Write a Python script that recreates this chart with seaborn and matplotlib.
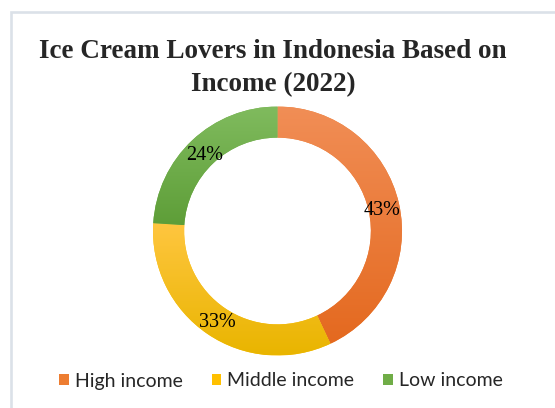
import numpy as np
import matplotlib
matplotlib.use("Agg")
import matplotlib.pyplot as plt
import matplotlib.transforms as mtransforms
import seaborn as sns
from matplotlib.patches import Patch, Rectangle
from matplotlib.colors import to_rgb

# ---- data ----
categories = ["High income", "Middle income", "Low income"]
shares = [43, 33, 24]
base_colors = ["#ED7D31", "#FFC000", "#70AD47"]
grad_top = ["#F18E56", "#FFC640", "#80BB5E"]
grad_bottom = ["#E4691F", "#E9B500", "#5E9E38"]
title_lines = ["Ice Cream Lovers in Indonesia Based on", "Income (2022)"]

sns.set_theme(style="white")
plt.rcParams["font.family"] = ["Liberation Serif", "DejaVu Serif"]

W, H = 555, 408
fig = plt.figure(figsize=(W / 100, H / 100), dpi=100)
fig.patch.set_facecolor("white")

cx, cy, R = 277.5, 231.0, 124.5
ax = fig.add_axes([(cx - R) / W, (H - cy - R) / H, 2 * R / W, 2 * R / H])

palette = sns.color_palette(base_colors)
wedges, texts, autotexts = ax.pie(
    shares, colors=palette, startangle=90, counterclock=False,
    radius=1.0, autopct="%1.0f%%", pctdistance=0.86,
    wedgeprops=dict(width=0.25, linewidth=0),
    textprops=dict(fontsize=14.5, color="black", family=["Liberation Serif"]),
)

# vertical gradient fill for each slice
for w, ct, cb in zip(wedges, grad_top, grad_bottom):
    ext = w.get_path().get_extents()
    n = 256
    t = np.linspace(0, 1, n)[:, None]
    grad = (1 - t) * np.array(to_rgb(ct)) + t * np.array(to_rgb(cb))
    grad = grad[:, None, :]
    im = ax.imshow(grad, extent=[ext.x0, ext.x1, ext.y0, ext.y1], origin="upper",
                   aspect="auto", interpolation="bilinear", zorder=w.get_zorder() + 0.1)
    im.set_clip_path(w)

shift = mtransforms.ScaledTranslation(0, -3 / 100, fig.dpi_scale_trans)
for t in autotexts:
    t.set_zorder(5)
    t.set_transform(t.get_transform() + shift)

ax.set_aspect("equal")
ax.set_xlim(-1, 1)
ax.set_ylim(-1, 1)
ax.axis("off")

for line, yb in zip(title_lines, [58.5, 91]):
    fig.text(273 / W, 1 - yb / H, line, ha="center", va="baseline", fontsize=19.5,
             fontweight="bold", family=["Liberation Serif"])

handles = [Patch(facecolor=c, edgecolor="none") for c in base_colors]
fig.legend(handles, categories, loc="center", bbox_to_anchor=(281 / W, 1 - 381 / H),
           ncol=3, frameon=False, handlelength=0.5, handleheight=0.5,
           handletextpad=0.3, columnspacing=1.5,
           prop=dict(family=["Lato", "DejaVu Sans"], size=14))

# light chart-area border
fig.add_artist(Rectangle((10.5 / W, -0.1), 1.2, 1.1 - 12.5 / H,
                         transform=fig.transFigure, facecolor="none",
                         edgecolor="#dbe1e8", linewidth=1.9, clip_on=False))

fig.savefig("out.png", dpi=100, facecolor="white")
